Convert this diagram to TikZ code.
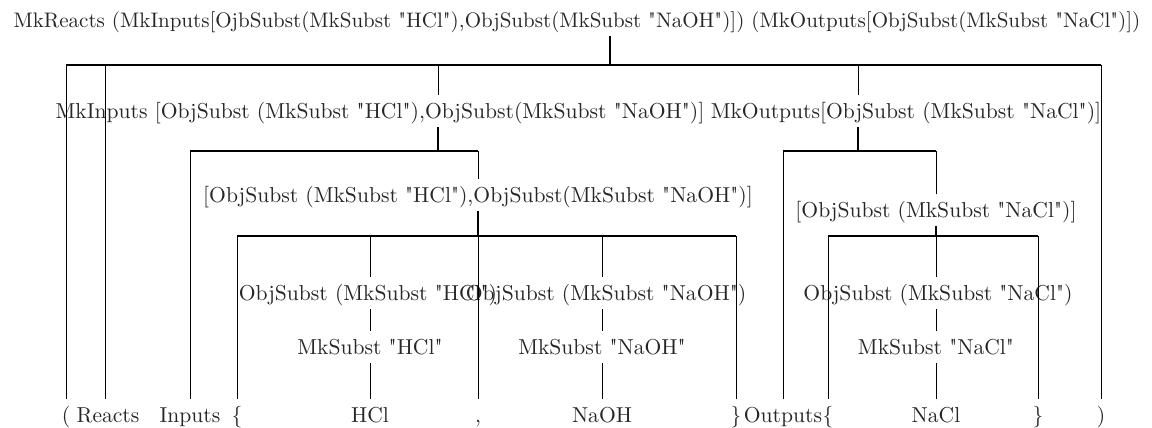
\documentclass[tikz,border=0pt]{standalone}
\usepackage{fontspec}
\setmainfont{lmroman10-regular.otf}[Ligatures=TeXOff]
\begin{document}
\begin{tikzpicture}[x=0.5pt,y=-0.5pt,
  lbl/.style={anchor=base,font=\fontsize{10.8}{13}\selectfont,text=black!85,inner xsep=0pt,inner ysep=2pt,text height=9.5pt,text depth=2.5pt},
  toplbl/.style={lbl,font=\fontsize{10.5}{13}\selectfont},
  edge/.style={line width=0.5pt},
  bar/.style={line width=1pt}]
\useasboundingbox (0,0) rectangle (1152,428);

% labels
\node[toplbl] (root) at (577,27) {MkReacts (MkInputs[OjbSubst(MkSubst "HCl"),ObjSubst(MkSubst "NaOH")]) (MkOutputs[ObjSubst(MkSubst "NaCl")])};
\node[lbl] (inp) at (380,118) {MkInputs [ObjSubst (MkSubst "HCl"),ObjSubst(MkSubst "NaOH")]};
\node[lbl] (out) at (906,118) {MkOutputs[ObjSubst (MkSubst "NaCl")]};
\node[lbl] (lsta) at (478,202) {[ObjSubst (MkSubst "HCl"),ObjSubst(MkSubst "NaOH")]};
\node[lbl] (lstb) at (936,217) {[ObjSubst (MkSubst "NaCl")]};
\node[lbl] (objh) at (368,300) {ObjSubst (MkSubst "HCl")};
\node[lbl] (objn) at (606,300) {ObjSubst (MkSubst "NaOH")};
\node[lbl] (objc) at (938,300) {ObjSubst (MkSubst "NaCl")};
\node[lbl] (mkh) at (370,354) {MkSubst "HCl"};
\node[lbl] (mkn) at (602,354) {MkSubst "NaOH"};
\node[lbl] (mkc) at (936,354) {MkSubst "NaCl"};
% leaves
\node[lbl] (lpar) at (66,422) {(};
\node[lbl] (reacts) at (108,422) {Reacts};
\node[lbl] (inputs) at (190,422) {Inputs};
\node[lbl] (lbra) at (237,422) {\{};
\node[lbl] (hcl) at (370,422) {HCl};
\node[lbl] (comma) at (478,422) {,};
\node[lbl] (naoh) at (602,422) {NaOH};
\node[lbl] (rbra) at (736,422) {\}};
\node[lbl] (outputs) at (783,422) {Outputs};
\node[lbl] (lbrb) at (828,422) {\{};
\node[lbl] (nacl) at (936,422) {NaCl};
\node[lbl] (rbrb) at (1038,422) {\}};
\node[lbl] (rpar) at (1101,422) {)};

% junctions
\coordinate (j0) at (610,65);
\coordinate (j1) at (438,151);
\coordinate (j1b) at (858,151);
\coordinate (j2) at (478,236);
\coordinate (j2b) at (936,236);
\coordinate (xr) at (105,0);

% root
\draw[bar] (root.south -| j0) -- (j0);
\draw[bar] (lpar.north |- j0) -- (rpar.north |- j0);
\draw[edge] (lpar.north |- j0) -- (lpar.north);
\draw[edge] (xr |- j0) -- (xr |- reacts.north);
\draw[edge] (j1 |- j0) -- (j1 |- inp.north);
\draw[edge] (j1b |- j0) -- (j1b |- out.north);
\draw[edge] (rpar.north |- j0) -- (rpar.north);

% inputs
\draw[bar] (j1 |- inp.south) -- (j1);
\draw[bar] (inputs.north |- j1) -- (lsta.north |- j1);
\draw[edge] (inputs.north |- j1) -- (inputs.north);
\draw[edge] (lsta.north |- j1) -- (lsta.north);

% list a
\draw[bar] (lsta.south) -- (j2);
\draw[bar] (lbra.north |- j2) -- (rbra.north |- j2);
\draw[edge] (lbra.north |- j2) -- (lbra.north);
\draw[edge] (hcl.north |- j2) -- (hcl.north |- objh.north);
\draw[edge] (hcl.north |- objh.south) -- (hcl.north |- mkh.north);
\draw[edge] (hcl.north |- mkh.south) -- (hcl.north);
\draw[edge] (comma.north |- j2) -- (comma.north);
\draw[edge] (naoh.north |- j2) -- (naoh.north |- objn.north);
\draw[edge] (naoh.north |- objn.south) -- (naoh.north |- mkn.north);
\draw[edge] (naoh.north |- mkn.south) -- (naoh.north);
\draw[edge] (rbra.north |- j2) -- (rbra.north);

% outputs
\draw[bar] (j1b |- out.south) -- (j1b);
\draw[bar] (outputs.north |- j1b) -- (lstb.north |- j1b);
\draw[edge] (outputs.north |- j1b) -- (outputs.north);
\draw[edge] (lstb.north |- j1b) -- (lstb.north);

% list b
\draw[bar] (lstb.south) -- (j2b);
\draw[bar] (lbrb.north |- j2b) -- (rbrb.north |- j2b);
\draw[edge] (lbrb.north |- j2b) -- (lbrb.north);
\draw[edge] (nacl.north |- j2b) -- (nacl.north |- objc.north);
\draw[edge] (nacl.north |- objc.south) -- (nacl.north |- mkc.north);
\draw[edge] (nacl.north |- mkc.south) -- (nacl.north);
\draw[edge] (rbrb.north |- j2b) -- (rbrb.north);
\end{tikzpicture}
\end{document}
